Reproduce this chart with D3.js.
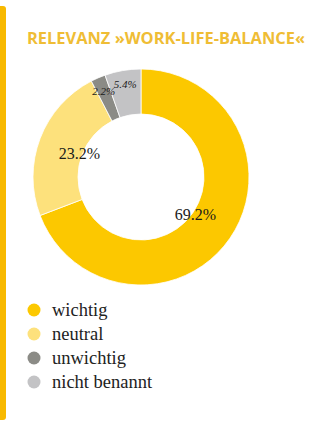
<!DOCTYPE html>
<html>
<head>
<meta charset="utf-8">
<script src="https://cdn.jsdelivr.net/npm/d3@7"></script>
<style>
  body { margin: 0; background: #fff; }
</style>
</head>
<body>
<script>
// donut: relevance of work-life-balance
const categories = ["wichtig", "neutral", "unwichtig", "nicht benannt"];
const values = [69.2, 23.2, 2.2, 5.4];
const labels = ["69.2%", "23.2%", "2.2%", "5.4%"];
const colors = ["#fcc800", "#fde17c", "#8b8b86", "#c3c3c5"];

const width = 323, height = 426;
const cx = 141, cy = 177, outerR = 108, innerR = 63;

const svg = d3.select("body").append("svg")
    .attr("width", width)
    .attr("height", height);

// yellow side bar
svg.append("rect")
    .attr("x", -4).attr("y", 6)
    .attr("width", 10).attr("height", 414)
    .attr("rx", 3)
    .attr("fill", "#f8b900");

svg.append("text")
    .attr("x", 27).attr("y", 44)
    .attr("font-family", "'Open Sans', sans-serif")
    .attr("font-weight", 700)
    .attr("font-size", 16)
    .attr("textLength", 278)
    .attr("lengthAdjust", "spacingAndGlyphs")
    .attr("fill", "#efbd35")
    .text("RELEVANZ »WORK-LIFE-BALANCE«");

const pie = d3.pie().sort(null).value(d => d)(values);
const arc = d3.arc().innerRadius(innerR).outerRadius(outerR);

const g = svg.append("g").attr("transform", `translate(${cx},${cy})`);

g.selectAll("path")
    .data(pie)
    .join("path")
    .attr("d", arc)
    .attr("fill", (d, i) => colors[i])
    .attr("stroke", "#fff")
    .attr("stroke-width", 0.8);

g.selectAll("text")
    .data(pie)
    .join("text")
    .attr("transform", d => {
        const r = d.value < 10 ? 94 : 66;
        const c = d3.arc().innerRadius(r).outerRadius(r).centroid(d);
        return `translate(${c})`;
    })
    .attr("text-anchor", "middle")
    .attr("dy", "0.35em")
    .attr("font-family", "'Liberation Serif', serif")
    .attr("font-size", d => d.value < 10 ? 11 : 16)
    .attr("font-style", d => d.value < 10 ? "italic" : "normal")
    .attr("fill", "#1a1a1a")
    .text((d, i) => labels[i]);

// legend
const y = d3.scaleBand().domain(categories).range([298, 394]);

const leg = svg.append("g").selectAll("g")
    .data(categories)
    .join("g")
    .attr("transform", d => `translate(0,${y(d) + y.bandwidth() / 2})`);

leg.append("circle")
    .attr("cx", 34).attr("r", 6.5)
    .attr("fill", (d, i) => colors[i]);

leg.append("text")
    .attr("x", 52)
    .attr("dy", "0.32em")
    .attr("font-family", "'Liberation Serif', serif")
    .attr("font-size", 18.5)
    .attr("fill", "#222")
    .text(d => d);
</script>
</body>
</html>
